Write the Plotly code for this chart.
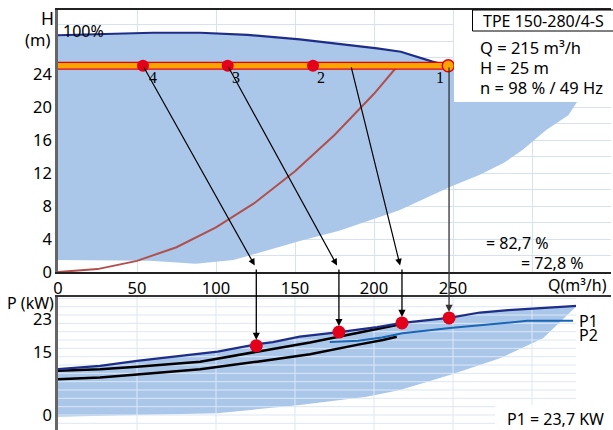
import plotly.graph_objects as go

# ---------------- data ----------------
Q_TICKS = [0, 50, 100, 150, 200, 250, 300]
Q_TICK_TEXT = ['0', '50', '100', '150', '200', '250', '']
H_TICKS = list(range(0, 32, 2))
H_TICK_TEXT = [str(v) if (v % 4 == 0 and v <= 24) else '' for v in H_TICKS]
P_TICKS = [0, 15, 23]
P_GRID = list(range(-2, 30, 2))
Q_GRID = [50, 100, 150, 200, 250, 300]

# 100% head curve
head_q = [0, 30, 60, 90, 120, 153, 185, 202, 217, 237, 247]
head_h = [28.7, 28.85, 29.0, 29.0, 28.75, 28.2, 27.5, 27.1, 26.7, 25.5, 25.0]
# operating range (upper) continued outline
range_q = [252, 300, 330, 328.5, 323, 309, 294, 282, 267, 248, 216, 204, 178, 153, 131, 111, 87, 58, 0]
range_h = [24.6, 23.0, 21.5, 20.6, 19.0, 17.2, 14.8, 13.2, 11.8, 10.3, 7.5, 6.7, 5.0, 3.75, 2.5, 1.45, 1.0, 1.35, 1.45]
# system curve
sys_q = [0, 25, 50, 75, 100, 125, 150, 175, 200, 215]
sys_h = [0, 0.35, 1.35, 3.0, 5.4, 8.45, 12.2, 16.6, 21.6, 25.0]
# duty points on head axis
duty_q = [247, 161.4, 107.4, 53.8]
duty_h = [25, 25, 25, 25]
duty_lbl = ['1', '2', '3', '4']
band_q = [0, 247]
band_h = [25, 25]

# power curves
p1_q = [0, 26.6, 50, 75, 101, 126, 136, 153, 160, 178, 202, 218, 247.5, 267, 285, 302, 328.5]
p1_p = [11.0, 11.8, 13.0, 14.0, 15.2, 17.0, 17.5, 18.8, 19.1, 19.9, 21.1, 22.1, 23.3, 24.6, 25.2, 25.6, 26.2]
p_range_q = [307, 279.7, 248, 216.5, 195.4, 153, 100.6, 50, 0]
p_range_p = [18.4, 13.6, 9.6, 6.0, 4.4, 2.4, 0.4, 0.0, -0.4]
p2_q = [172, 190, 205, 218, 248, 273, 297, 326]
p2_p = [17.5, 17.8, 18.6, 19.6, 20.9, 21.7, 22.6, 22.6]
blk1_q = [0, 26.6, 50, 90, 126, 159.5, 187, 214.4]
blk1_p = [10.6, 11.0, 11.6, 12.8, 15.2, 17.4, 19.5, 21.6]
blk2_q = [0, 26.6, 50, 90, 126, 159.5, 190, 205.7, 214.4]
blk2_p = [8.6, 9.0, 9.7, 11.0, 12.8, 14.6, 16.9, 18.0, 18.8]
pt_q = [125.5, 177.8, 217.7, 247.5]
pt_p = [16.6, 19.9, 22.1, 23.3]
# arrows from head points to flow axis
arrow_src_q = [53.8, 107.4, 185.4]
arrow_dst_q = [124.5, 176.6, 216.5]

# ---------------- layout geometry ----------------
W, Hh = 613, 430
ML, MR, MT, MB = 58, 2, 10, 0
X_RANGE = [0, 350]
H_RANGE = [0, 31.76]
P_RANGE = [-3.6, 28.33]
UP_BOTTOM_PX, LOW_TOP_PX = 272, 297


def px(x):
    return (x - ML) / (W - ML - MR)


def py(y):
    return (Hh - MB - y) / (Hh - MT - MB)


def ypx_low(p):
    return LOW_TOP_PX + (P_RANGE[1] - p) / (P_RANGE[1] - P_RANGE[0]) * (Hh - MB - LOW_TOP_PX)


FONT = 'Noto Sans'
BLUE_FILL = '#aac7ea'
NAVY = '#1e2d86'
RED = '#e3001b'
ORANGE = '#fba500'
GRID = '#d6e2f2'

fig = go.Figure()

# upper region fill
fig.add_trace(go.Scatter(x=head_q + range_q, y=head_h + range_h, fill='toself', mode='lines',
                         line=dict(width=0), fillcolor=BLUE_FILL, xaxis='x', yaxis='y', hoverinfo='skip'))
fig.add_trace(go.Scatter(x=head_q, y=head_h, mode='lines', line=dict(color=NAVY, width=2.2),
                         xaxis='x', yaxis='y'))
fig.add_trace(go.Scatter(x=sys_q, y=sys_h, mode='lines', line=dict(color='#b04f4c', width=2),
                         xaxis='x', yaxis='y'))
fig.add_trace(go.Scatter(x=band_q, y=band_h, mode='lines', line=dict(color=RED, width=8),
                         xaxis='x', yaxis='y'))
fig.add_trace(go.Scatter(x=band_q, y=band_h, mode='lines', line=dict(color=ORANGE, width=5.5),
                         xaxis='x', yaxis='y'))
fig.add_trace(go.Scatter(x=duty_q[1:], y=duty_h[1:], mode='markers',
                         marker=dict(color=RED, size=12, line=dict(width=0)), xaxis='x', yaxis='y'))
fig.add_trace(go.Scatter(x=duty_q[:1], y=duty_h[:1], mode='markers',
                         marker=dict(color=ORANGE, size=12, line=dict(color=RED, width=1.5)),
                         xaxis='x', yaxis='y'))

# lower region fill
fig.add_trace(go.Scatter(x=p1_q + p_range_q, y=p1_p + p_range_p, fill='toself', mode='lines',
                         line=dict(width=0), fillcolor=BLUE_FILL, xaxis='x2', yaxis='y2', hoverinfo='skip'))
# lower grid drawn over the fill
gx, gy = [], []
for v in P_GRID:
    gx += [X_RANGE[0], X_RANGE[1], None]
    gy += [v, v, None]
for q in Q_GRID:
    gx += [q, q, None]
    gy += [P_RANGE[0], P_RANGE[1], None]
fig.add_trace(go.Scatter(x=gx, y=gy, mode='lines', line=dict(color='#dde7f5', width=1),
                         xaxis='x2', yaxis='y2', hoverinfo='skip'))
fig.add_trace(go.Scatter(x=blk2_q, y=blk2_p, mode='lines', line=dict(color='black', width=2.5),
                         xaxis='x2', yaxis='y2'))
fig.add_trace(go.Scatter(x=blk1_q, y=blk1_p, mode='lines', line=dict(color='black', width=2.5),
                         xaxis='x2', yaxis='y2'))
fig.add_trace(go.Scatter(x=p2_q, y=p2_p, mode='lines', line=dict(color='#1866b4', width=2),
                         xaxis='x2', yaxis='y2'))
fig.add_trace(go.Scatter(x=p1_q, y=p1_p, mode='lines', line=dict(color=NAVY, width=2.2),
                         xaxis='x2', yaxis='y2'))
fig.add_trace(go.Scatter(x=pt_q, y=pt_p, mode='markers', marker=dict(color=RED, size=13),
                         xaxis='x2', yaxis='y2'))

annotations = []
# diagonal arrows (head chart)
for s, d in zip(arrow_src_q, arrow_dst_q):
    annotations.append(dict(x=d, y=0.8, xref='x', yref='y', ax=s, ay=25, axref='x', ayref='y',
                            showarrow=True, arrowhead=2, arrowsize=1.1, arrowwidth=1.2,
                            arrowcolor='black', text=''))
# vertical arrows down to power points
for i, (q, p) in enumerate(zip(pt_q, pt_p)):
    start_px = 66 if i == 3 else 268
    annotations.append(dict(x=q, y=p, xref='x2', yref='y2', ax=0, ay=-(ypx_low(p) - start_px),
                            axref='pixel', ayref='pixel', showarrow=True, arrowhead=2, arrowsize=1.1,
                            arrowwidth=1.3, arrowcolor='#333333' if i == 3 else 'black',
                            standoff=6, text=''))


def txt(t, x, y, xa='center', size=16.5, family=FONT, color='black'):
    annotations.append(dict(text=t, x=px(x), y=py(y), xref='paper', yref='paper', showarrow=False,
                            xanchor=xa, yanchor='middle', font=dict(family=family, size=size, color=color)))


txt('H', 47, 18, size=17.5)
txt('(m)', 52, 40, xa='right')
txt('100%', 61, 31, xa='left', size=16)
for lbl, x in zip(duty_lbl, [440, 320.7, 236, 153]):
    txt(lbl, x, 77, size=16, family='Liberation Serif')
txt('TPE 150-280/4-S', 543, 20.5, size=16)
txt('Q = 215 m³/h', 478, 47, xa='left', size=16.5)
txt('H = 25 m', 478, 67.5, xa='left', size=16.5)
txt('n = 98 % / 49 Hz', 478, 87.5, xa='left', size=16.5)
txt('= 82,7 %', 484, 243, xa='left', size=16)
txt('= 72,8 %', 519, 263, xa='left', size=16)
txt('Q(m³/h)', 609, 285, xa='right', size=16)
txt('P (kW)', 56, 303, xa='right', size=16)
txt('P1', 577, 321, xa='left', size=16)
txt('P2', 577, 334.5, xa='left', size=16)
txt('P1 = 23,7 KW', 505, 419, xa='left', size=16)

shapes = [
    # white box behind the duty data (upper right)
    dict(type='rect', xref='paper', yref='paper', x0=px(454), x1=px(620), y0=py(102), y1=py(11.2),
         fillcolor='white', line=dict(width=0), layer='above'),
    dict(type='rect', xref='paper', yref='paper', x0=px(472.5), x1=px(640), y0=py(31), y1=py(10),
         fillcolor='rgba(0,0,0,0)', line=dict(color='black', width=1), layer='above'),
    # white area behind P1/P2 labels and power text
    dict(type='rect', xref='paper', yref='paper', x0=px(576), x1=px(620), y0=py(405), y1=py(298.2),
         fillcolor='white', line=dict(width=0), layer='above'),
    dict(type='rect', xref='paper', yref='paper', x0=px(495), x1=px(620), y0=py(440), y1=py(405),
         fillcolor='white', line=dict(width=0), layer='above'),
]

fig.update_layout(
    width=W, height=Hh, margin=dict(l=ML, r=MR, t=MT, b=MB, pad=0, autoexpand=False),
    paper_bgcolor='white', plot_bgcolor='white', showlegend=False,
    font=dict(family=FONT, size=16.5, color='black'),
    xaxis=dict(domain=[0, 1], range=X_RANGE, tickvals=Q_TICKS, ticktext=Q_TICK_TEXT,
               showgrid=True, gridcolor=GRID, gridwidth=1, zeroline=False, automargin=False,
               showline=True, linecolor='#222222', linewidth=2, mirror=True, ticks='',
               anchor='y', tickfont=dict(size=16.5)),
    yaxis=dict(domain=[py(UP_BOTTOM_PX), 1], range=H_RANGE, tickvals=H_TICKS, ticktext=H_TICK_TEXT,
               showgrid=True, gridcolor=GRID, gridwidth=1, zeroline=False, automargin=False,
               showline=True, linecolor='#666666', linewidth=2.5, ticks='', anchor='x',
               tickfont=dict(size=16.5)),
    xaxis2=dict(domain=[0, 1], range=X_RANGE, showticklabels=False, showgrid=False, zeroline=False,
                automargin=False, showline=True, linecolor='#333333', linewidth=2, side='top',
                ticks='', anchor='y2'),
    yaxis2=dict(domain=[0, py(LOW_TOP_PX)], range=P_RANGE, tickvals=P_TICKS, showgrid=False,
                zeroline=False, automargin=False, showline=True, linecolor='#666666', linewidth=2.5,
                ticks='', anchor='x2', tickfont=dict(size=16.5)),
    annotations=annotations, shapes=shapes,
)

fig.write_html('out.html', config={'displayModeBar': False},
               post_script="document.body.style.margin='0';document.body.style.overflow='hidden';")
